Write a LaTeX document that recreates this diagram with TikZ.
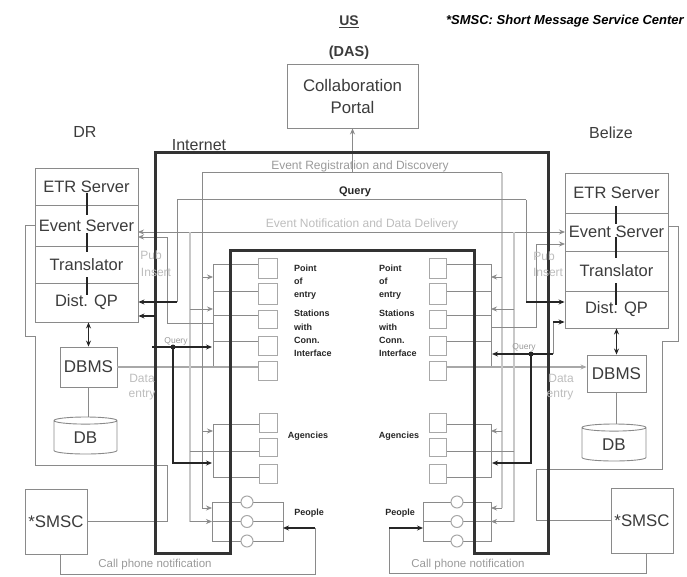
\documentclass[tikz,border=0pt]{standalone}
\usepackage{fontspec}
\setmainfont{Liberation Sans}
\usetikzlibrary{arrows.meta,shapes.geometric,calc}
\definecolor{ln}{HTML}{8A8A8A}
\definecolor{lt}{HTML}{C8C8C8}
\definecolor{md}{HTML}{A8A8A8}
\definecolor{tx}{HTML}{3C3C3C}
\definecolor{gt}{HTML}{9A9A9A}
\definecolor{gl}{HTML}{BDBDBD}
\tikzset{
 lay/.style={draw=ln,line width=.9pt,fill=white,inner sep=0pt,text=tx,font=\fontsize{16.5}{18}\selectfont},
 dbms/.style={lay,font=\fontsize{17}{19}\selectfont},
 big/.style={draw=ln,line width=.9pt,fill=white,inner sep=0pt,text=tx,align=center,font=\fontsize{16.8}{22}\selectfont},
 sq/.style={draw=md,line width=1pt,fill=white,inner sep=0pt},
 person/.style={circle,draw=md,line width=1pt,fill=white,inner sep=0pt,minimum size=12pt},
 db/.style={cylinder,shape border rotate=90,aspect=0.3,draw=ln,line width=.9pt,fill=white,inner sep=0pt,text=tx,font=\fontsize{17}{19}\selectfont},
 wire/.style={draw=ln,line width=.8pt},
 pale/.style={draw=lt,line width=2pt},
 feed/.style={draw=md,line width=1.4pt},
 dark/.style={draw=black!85,line width=1.3pt},
 tip/.style={-{Stealth[length=6pt,width=5pt]}},
 dtip/.style={{Stealth[length=6pt,width=5pt]}-{Stealth[length=6pt,width=5pt]}},
 wall/.style={draw=black!80,line width=3pt,line join=miter},
 lab/.style={text=tx,inner sep=0pt,font=\fontsize{16}{18}\selectfont},
 small/.style={text=gt,inner sep=0pt,font=\fontsize{12}{14}\selectfont},
 mini/.style={text=gt,inner sep=0pt,font=\fontsize{8.5}{10}\selectfont},
 tiny/.style={text=black!85,inner sep=0pt,font=\bfseries\fontsize{9}{10}\selectfont},
 tinyl/.style={tiny,anchor=west},
 note/.style={text=gl,inner sep=0pt,font=\fontsize{12}{14}\selectfont},
}
\newcommand{\bx}[7][]{\node[#2,#1,minimum width={(#5-#3)*1pt},minimum height={(#6-#4)*1pt}] (#7) at ({(#3+#5)/2},{(#4+#6)/2})}
\begin{document}
\begin{tikzpicture}[x=1pt,y=-1pt]
\useasboundingbox (0,0) rectangle (687,577);
% nodes
\bx{big}{287}{64}{418}{128}{portal}{Collaboration\\Portal};
\bx{lay}{35}{168}{138}{205}{LE}{ETR Server};
\bx{lay}{35}{205}{138}{246}{LV}{Event Server};
\bx{lay}{35}{246}{138}{283}{LT}{Translator};
\bx{lay}{35}{283}{138}{322}{LQ}{Dist. QP};
\bx{lay}{565}{173}{668}{213}{RE}{ETR Server};
\bx{lay}{565}{213}{668}{251}{RV}{Event Server};
\bx{lay}{565}{251}{668}{291}{RT}{Translator};
\bx{lay}{565}{291}{668}{328}{RQ}{Dist. QP};
\bx{dbms}{60}{347}{117}{387}{LD}{DBMS};
\bx{dbms}{587}{355}{646}{392}{RD}{DBMS};
\node[db,minimum width=63pt,minimum height=37pt] (LB) at (85.5,437.5) {DB};
\node[db,minimum width=64pt,minimum height=37pt] (RB) at (614,444.5) {DB};
\bx{big}{25}{489}{87}{554}{LS}{*SMSC};
\bx{big}{611}{488}{673}{553}{RS}{*SMSC};
% coordinates
\coordinate (lbus1) at (213,264); \coordinate (lbus5) at (213,367);
\coordinate (ereg1) at (202,173); \coordinate (ereg2) at (502,173);
\coordinate (qry1) at (177,200); \coordinate (qry2) at (526,200);
\coordinate (enl) at (138,232); \coordinate (enr) at (565,232);
\coordinate (phL) at (212,502); \coordinate (pmL) at (212,521.5); \coordinate (plL) at (212,541);
\coordinate (phR) at (283,502); \coordinate (pmR) at (283,521.5); \coordinate (plR) at (283,541);
\coordinate (qhL) at (423,502); \coordinate (qmL) at (423,521.5); \coordinate (qlL) at (423,541);
\coordinate (qhR) at (491,502); \coordinate (qmR) at (491,521.5); \coordinate (qlR) at (491,541);
\coordinate (rbus1) at (491,264); \coordinate (rbus5) at (491,367);
\coordinate (agL1) at (213,424); \coordinate (agL2) at (213,477);
\coordinate (agR1) at (491,424); \coordinate (agR2) at (491,477);
\coordinate (row1) at (0,264); \coordinate (row2) at (0,291); \coordinate (row3) at (0,315); \coordinate (row4) at (0,341); \coordinate (row5) at (0,367);
\coordinate (agm) at (0,451);
% small boxes
\foreach \n/\a/\b in {1/258/278,2/283/304,3/310/328,4/336/355,5/361/380}{
 \bx{sq}{258}{\a}{277}{\b}{ls\n}{};
 \bx{sq}{429}{\a}{446}{\b}{rs\n}{};
}
\foreach \n/\a/\b in {1/413/432,2/438/456,3/464/483}{
 \bx{sq}{259}{\a}{277}{\b}{la\n}{};
 \bx{sq}{429}{\a}{446}{\b}{ra\n}{};
}
% buses
\draw[wire] (lbus1) -- (lbus5);
\draw[wire] (rbus1) -- (rbus5);
\foreach \n in {1,2,3,4}{
 \draw[wire] (ls\n.west |- row\n) -- (lbus1 |- row\n);
 \draw[wire] (rs\n.east |- row\n) -- (rbus1 |- row\n);
}
\draw[feed] (LD.east |- row5) -- (ls5.west |- row5);
\draw[feed,tip] (rs5.east |- row5) -- (RD.west |- row5);
% agencies
\draw[wire] (la1.west |- agL1) -- (agL1) -- (agL2) -- (la3.west |- agL2);
\draw[wire] (ra1.east |- agR1) -- (agR1) -- (agR2) -- (ra3.east |- agR2);
% people
\draw[wire] (phR) -- (phL) -- (plL) -- (plR) -- cycle;
\draw[wire] (pmL) -- (pmR);
\draw[wire] (qhL) -- (qhR) -- (qlR) -- (qlL) -- cycle;
\draw[wire] (qmL) -- (qmR);
% event registration
\draw[wire,line width=1pt] (ereg1) -- (ereg2);
\draw[wire,line width=1pt] (ereg1) -- (202,508);
\draw[wire,tip] (202,508) -- (212,508);
\draw[wire,tip] (202,431) -- (213,431);
\draw[wire,tip] (202,277) -- (213,277);
\draw[pale] (ereg2) -- (502,508);
\draw[wire,tip] (502,508) -- (491,508);
\draw[wire,tip] (502,431) -- (491,431);
\draw[wire,tip] (502,277) -- (491,277);
\draw[wire,tip] (portal.south |- ereg1) -- (portal.south);
% event notification
\draw[wire,dtip] (enl) -- (enr);
\draw[pale] (190,232) -- (190,521.5);
\draw[pale] (514,232) -- (514,521.5);
\draw[wire,tip] (190,521.5) -- (212,521.5);
\draw[wire,tip] (190,309) -- (213,309);
\draw[wire] (190,451) -- (la2.west |- agm);
\draw[wire,tip] (514,521.5) -- (491,521.5);
\draw[wire,tip] (514,309) -- (491,309);
\draw[wire] (514,451) -- (ra2.east |- agm);
% publish lines
\draw[wire,tip] (213,323) -- (167,323) -- (167,237) -- (138,237);
\draw[wire,tip] (491,327) -- (536,327) -- (536,244) -- (565,244);
% loops
\draw[wire] (LV.west) -- (25,225.5) -- (25,336) -- (35,336) -- (35,465) -- (167,465) -- (167,521.5) -- (LS.east);
\draw[wire] (RV.east |- 0,226) -- (678,226) -- (678,341) -- (662,341) -- (662,469) -- (536,469) -- (536,520.5) -- (RS.west);
% thick internet wall
\draw[wall] (155,553) -- (155,153) -- (548,153) -- (548,553) -- (474,553) -- (474,250) -- (230,250) -- (230,553) -- cycle;
% query
\draw[wire,line width=1pt] (qry1) -- (qry2);
\draw[wire,line width=1pt] (qry1) -- (177,302);
\draw[wire,line width=1pt] (qry2) -- (526,302);
\draw[dark,tip] (177,302) -- (LQ.east |- 0,302);
\draw[dark,tip] (526,302) -- (RQ.west |- 0,302);
\draw[dark,tip] (155,316) -- (LQ.east |- 0,316);
\draw[dark,tip] (152,347) -- (212,347);
\coordinate (lj) at (173,347);
\draw[dark,tip] (lj) -- (173,463) -- (212,463);
\fill[black!85] (lj) circle (2.5pt);
\draw[wire,line width=1pt] (553,354) -- (553,322);
\draw[dark,tip] (553,322) -- (RQ.west |- 0,322);
\draw[dark,tip] (553,354) -- (492,354);
\coordinate (rj) at (531,354);
\draw[dark,tip] (rj) -- (531,463) -- (492,463);
\fill[black!85] (rj) circle (2.5pt);
% stack inner links
\foreach \x/\a/\b in {87/193/215,87/233/252,87/277/295,616/206/224,616/237/258,616/283/305}{
 \draw[dark] (\x,\a) -- (\x,\b);
}
\draw[dark,dtip] (LD.north |- LQ.south) -- (LD.north);
\draw[dark,dtip] (RD.north |- RQ.south) -- (RD.north);
\draw[wire] (LD.south) -- (LD.south |- LB.north);
\draw[wire] (RD.south) -- (RD.south |- RB.north);
% cell notification
\coordinate (cnL) at (60,574); \coordinate (cnR) at (315,574);
\draw[wire] (LS.south -| cnL) -- (cnL) -- (cnR) -- (315,528);
\draw[dark,tip] (315,528) -- (283,528);
\coordinate (dnL) at (389,573); \coordinate (dnR) at (646,573);
\draw[wire] (RS.south -| dnR) -- (dnR) -- (dnL) -- (389,528);
\draw[dark,tip] (389,528) -- (423,528);
% people
\foreach \n/\y in {1/502,2/521.5,3/541}{
 \node[person] (lp\n) at (247,\y) {};
 \node[person] (rp\n) at (457,\y) {};
}
% labels
\node[lab,font=\bfseries\fontsize{14}{16}\selectfont] (us) at (349,22) {\underline{US}};
\node[lab,font=\bfseries\fontsize{14.5}{16}\selectfont] (das) at (349,53) {(DAS)};
\node[lab,anchor=east,text=black,font=\bfseries\itshape\fontsize{13}{15}\selectfont] (smsc) at (684,21) {*SMSC: Short Message Service Center};
\node[lab] (dr) at (85,132) {DR};
\node[lab] (bz) at (611,133) {Belize};
\node[lab] (net) at (199,145) {Internet};
\node[small] (t1) at (360,166) {Event Registration and Discovery};
\node[tiny,font=\bfseries\fontsize{11}{12}\selectfont] (t2) at (355,192) {Query};
\node[note] (t3) at (362,224) {Event Notification and Data Delivery};
\node[small,font=\fontsize{11.5}{13}\selectfont] (c1) at (155,565) {Call phone notification};
\node[small,font=\fontsize{11.5}{13}\selectfont] (c2) at (468,565) {Call phone notification};
\node[mini] (q1) at (176,341) {Query};
\node[mini] (q2) at (524,347) {Query};
\node[note] (p1) at (151,255) {Pub};
\node[note] (p2) at (156,272) {Insert};
\node[note] (p3) at (544,256) {Pub};
\node[note] (p4) at (548,272) {Insert};
\node[note] (d1) at (142,378) {Data};
\node[note] (d2) at (142,395) {entry};
\node[note] (d3) at (561,378) {Data};
\node[note] (d4) at (560,395) {entry};
\foreach \x/\s in {294/a,379/b}{
 \node[tinyl] (pa\s) at (\x,268) {Point};
 \node[tinyl] (pb\s) at (\x,281) {of};
 \node[tinyl] (pc\s) at (\x,295) {entry};
 \node[tinyl] (pd\s) at (\x,313) {Stations};
 \node[tinyl] (pe\s) at (\x,327) {with};
 \node[tinyl] (pf\s) at (\x,340) {Conn.};
 \node[tinyl] (pg\s) at (\x,353) {Interface};
}
\node[tiny] (ag1) at (308,436) {Agencies};
\node[tiny] (ag2) at (399,436) {Agencies};
\node[tiny] (pp1) at (309,513) {People};
\node[tiny] (pp2) at (400,513) {People};
\end{tikzpicture}
\end{document}
